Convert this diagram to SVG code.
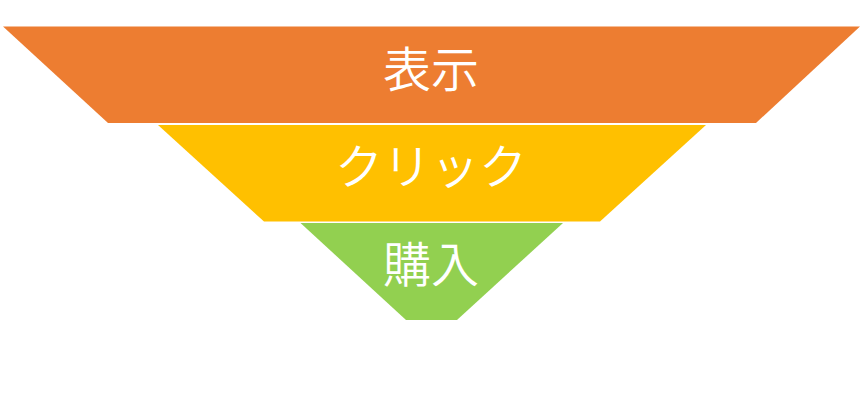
<svg xmlns="http://www.w3.org/2000/svg" width="864" height="420" viewBox="0 0 864 420">
<style>
.lbl{font-family:"Noto Sans CJK JP","Noto Sans",sans-serif;font-size:48px;font-weight:350;fill:#ffffff;text-anchor:middle}
</style>
<rect width="864" height="420" fill="#ffffff"/>
<g id="hyouji">
<polygon points="3,26.5 860,26.5 756,123 108,123" fill="#ED7D31"/>
<text class="lbl" x="431" y="87">表示</text>
</g>
<g id="click">
<polygon points="158,125 706,125 600,221.5 264,221.5" fill="#FFC000"/>
<text class="lbl" x="431" y="184">クリック</text>
</g>
<g id="kounyu">
<polygon points="300.5,223 563,223 457,320 406,320" fill="#92D050"/>
<text class="lbl" x="431" y="282">購入</text>
</g>
<g id="connectors"></g>
</svg>
